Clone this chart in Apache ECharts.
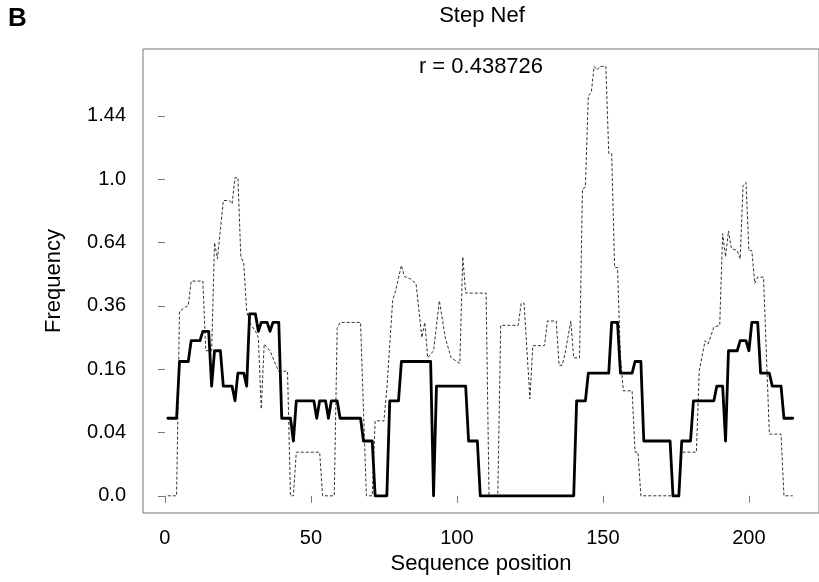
<!DOCTYPE html>
<html>
<head>
<meta charset="utf-8">
<script src="https://cdn.jsdelivr.net/npm/echarts@6/dist/echarts.min.js"></script>
<style>
html,body{margin:0;padding:0;background:#fff;}
#chart{width:819px;height:582px;}
</style>
</head>
<body>
<div id="chart"></div>
<script>
// ---- data ----
var panelLabel = 'B';
var chartTitle = 'Step Nef';
var corrText = 'r = 0.438726';
var xTitle = 'Sequence position';
var yTitle = 'Frequency';
var xTicks = [0, 50, 100, 150, 200];
var yTickLabels = ['0.0', '0.04', '0.16', '0.36', '0.64', '1.0', '1.44'];

// solid profile: position / frequency at breakpoints
var solidPos = [1,4,5,8,9,12,13,15,16,17,19,20,23,24,25,27,28,29,31,32,33,35,36,37,39,40,43,44,45,51,52,53,55,56,57,59,60,67,68,71,72,76,77,80,81,91,92,93,103,104,107,108,140,141,144,145,152,153,155,156,160,161,163,164,173,174,176,177,180,181,188,189,191,192,193,196,197,199,200,201,203,204,207,208,211,212,215];
var solidFreq = [0.06,0.06,0.18,0.18,0.24,0.24,0.27,0.27,0.12,0.21,0.21,0.12,0.12,0.09,0.15,0.15,0.12,0.33,0.33,0.27,0.30,0.30,0.27,0.30,0.30,0.06,0.06,0.03,0.09,0.09,0.06,0.09,0.09,0.06,0.09,0.09,0.06,0.06,0.03,0.03,0,0,0.09,0.09,0.18,0.18,0,0.12,0.12,0.03,0.03,0,0,0.09,0.09,0.15,0.15,0.30,0.30,0.15,0.15,0.18,0.18,0.03,0.03,0,0,0.03,0.03,0.09,0.09,0.12,0.12,0.03,0.21,0.21,0.24,0.24,0.21,0.30,0.30,0.15,0.15,0.12,0.12,0.06,0.06];

// dashed profile
var dashPos = [1,4,5,7,8,9,13,14,16,17,18,20,22,23,24,25,26,27,28,29,31,32,33,34,36,38,39,42,43,44,45,53,54,58,59,60,67,69,71,72,75,76,78,79,81,82,84,86,88,89,90,92,94,96,98,100,101,102,103,110,111,114,115,121,122,123,125,126,130,131,134,135,136,137,139,140,142,143,144,145,146,147,148,149,151,152,153,154,155,156,157,160,161,162,163,176,177,182,183,185,186,188,190,191,192,193,194,196,197,198,199,200,201,202,203,205,207,211,212,215];
var dashFreq = [0,0,0.34,0.355,0.36,0.46,0.46,0.21,0.21,0.64,0.56,0.87,0.87,0.85,1.01,1.01,0.57,0.54,0.34,0.30,0.27,0.25,0.075,0.23,0.21,0.17,0.155,0.155,0,0,0.019,0.019,0,0,0.28,0.30,0.30,0,0,0.056,0.056,0.114,0.38,0.42,0.53,0.48,0.47,0.45,0.25,0.30,0.19,0.21,0.38,0.25,0.19,0.18,0.175,0.57,0.41,0.41,0,0,0.29,0.29,0.37,0.37,0.094,0.225,0.225,0.305,0.305,0.17,0.17,0.20,0.305,0.19,0.19,0.94,0.95,1.60,1.62,1.84,1.81,1.84,1.84,1.17,1.17,0.52,0.52,0.19,0.11,0.11,0.019,0.019,0,0,0.019,0.019,0.156,0.24,0.23,0.284,0.29,0.686,0.57,0.70,0.61,0.60,0.56,0.96,0.98,0.60,0.60,0.45,0.477,0.477,0.038,0.038,0,0];

// ---- build ----
function pairs(pos, freq) {
  var out = [];
  for (var i = 0; i < pos.length; i++) out.push([pos[i], Math.sqrt(freq[i])]);
  return out;
}
var yTickVals = yTickLabels.map(function (s) { return Math.sqrt(Number(s)); });
function yLabel(v) {
  var best = 0, d = 1e9;
  for (var i = 0; i < yTickVals.length; i++) {
    var dd = Math.abs(yTickVals[i] - v);
    if (dd < d) { d = dd; best = i; }
  }
  return yTickLabels[best];
}
var FONT = '"Liberation Sans", Arial, Helvetica, sans-serif';
var boxColor = '#777';

var chart = echarts.init(document.getElementById('chart'), null, {renderer: 'canvas'});
chart.setOption({
  animation: false,
  backgroundColor: '#fff',
  title: [
    {text: chartTitle, left: 482, top: 5, textAlign: 'center', padding: 0,
     textStyle: {fontFamily: FONT, fontSize: 22, fontWeight: 'normal', color: '#000'}},
    {text: corrText, left: 481, top: 56, textAlign: 'center', padding: 0,
     textStyle: {fontFamily: FONT, fontSize: 22, fontWeight: 'normal', color: '#000'}},
    {text: panelLabel, left: 8, top: 6, padding: 0,
     textStyle: {fontFamily: FONT, fontSize: 26, fontWeight: 'bold', color: '#000'}}
  ],
  grid: {
    left: 143, top: 49, width: 678, height: 464,
    show: true, borderColor: boxColor, borderWidth: 1, backgroundColor: 'transparent',
    containLabel: false
  },
  xAxis: {
    type: 'value', min: -7.5, max: 224,
    name: xTitle, nameLocation: 'middle', nameGap: 40,
    nameTextStyle: {fontFamily: FONT, fontSize: 22, color: '#000'},
    axisLine: {show: false},
    axisTick: {show: true, inside: false, length: 7, customValues: xTicks,
               lineStyle: {color: boxColor, width: 1}},
    axisLabel: {show: true, customValues: xTicks, margin: 15,
                fontFamily: FONT, fontSize: 20, color: '#000'},
    splitLine: {show: false}
  },
  yAxis: {
    type: 'value', min: -0.0543, max: 1.4114,
    name: yTitle, nameLocation: 'middle', nameGap: 78, nameRotate: 90,
    nameTextStyle: {fontFamily: FONT, fontSize: 22, color: '#000'},
    axisLine: {show: false},
    axisTick: {show: true, inside: false, length: 7, customValues: yTickVals,
               lineStyle: {color: boxColor, width: 1}},
    axisLabel: {show: true, customValues: yTickVals, margin: 17,
                fontFamily: FONT, fontSize: 20, color: '#000',
                formatter: function (v) { return yLabel(v); }},
    splitLine: {show: false}
  },
  series: [
    {
      type: 'line', name: 'dashed', data: pairs(dashPos, dashFreq),
      showSymbol: false, symbol: 'none', smooth: false, z: 2,
      lineStyle: {color: '#333', width: 1, type: [3, 2]}
    },
    {
      type: 'line', name: 'solid', data: pairs(solidPos, solidFreq),
      showSymbol: false, symbol: 'none', smooth: false, z: 3,
      lineStyle: {color: '#000', width: 2.8, cap: 'round', join: 'round'}
    }
  ]
});
</script>
</body>
</html>
